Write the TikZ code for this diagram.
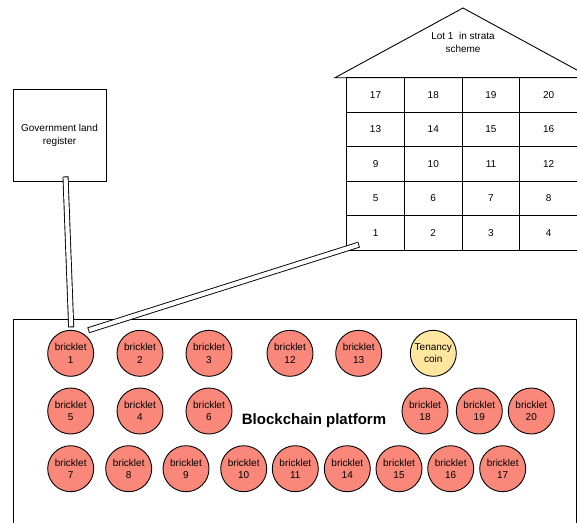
\documentclass[tikz,border=0pt]{standalone}
\usepackage{fontspec}
\setmainfont{Liberation Sans}
\usepackage{color}
\definecolor{salmon}{RGB}{250,136,122}
\definecolor{paleyellow}{RGB}{255,230,158}

\tikzset{
  brick/.style={draw,circle,fill=salmon,line width=0.9pt,minimum size=46pt,inner sep=0pt,align=center,font=\fontsize{10}{12.5}\selectfont},
  coin/.style={brick,fill=paleyellow},
  cell/.style={draw,line width=0.9pt,minimum width=57.7pt,minimum height=34.6pt,inner sep=0pt,font=\fontsize{10}{12}\selectfont},
  bar/.style={line width=6pt,postaction={draw=white,line width=4.2pt,shorten <=0.9pt,shorten >=0.9pt}}
}

\begin{document}
\begin{tikzpicture}[x=1pt,y=-1pt]
			\useasboundingbox (0,0) rectangle (577,522);
			\coordinate (r1) at (0,353.3);
			\coordinate (r2) at (0,411);
			\coordinate (r3) at (0,468.7);

			% government register
			\node[draw,line width=0.9pt,minimum width=93pt,minimum height=92pt,inner sep=0pt,align=center,font=\fontsize{10}{13}\selectfont] (govreg) at (59.5,135) {Government land\\register};

			% house with strata lots
			\draw[line width=0.9pt] (335,77.7) -- (463,8) -- (591,77.7) -- cycle;
			\node[align=center,font=\fontsize{10}{13}\selectfont] (lot) at (463,42.5) {Lot 1~ in strata\\scheme};
			\foreach \row in {0,...,4}
				\foreach \col in {1,...,4} {
					\pgfmathtruncatemacro{\num}{\row*4+\col}
					\node[cell] (cell\num) at (317.85+\col*57.7,233.1-\row*34.6) {\num};
				}

			% blockchain platform
			\draw[line width=0.9pt] (13.3,540) |- (576.3,319.3) -- (576.3,540);
			\node[font=\fontsize{15}{18}\selectfont\bfseries] (platform) at (314,421) {Blockchain platform};

			\node[brick] (b1) at (70.7,0 |- r1) {bricklet\\1};
			\node[brick] (b2) at (140,0 |- r1) {bricklet\\2};
			\node[brick] (b3) at (209,0 |- r1) {bricklet\\3};
			\node[brick] (b12) at (290,0 |- r1) {bricklet\\12};
			\node[brick] (b13) at (358.7,0 |- r1) {bricklet\\13};
			\node[coin] (tenancy) at (433.3,0 |- r1) {Tenancy\\coin};

			\node[brick] (b5) at (70.7,0 |- r2) {bricklet\\5};
			\node[brick] (b4) at (140,0 |- r2) {bricklet\\4};
			\node[brick] (b6) at (209,0 |- r2) {bricklet\\6};
			\node[brick] (b18) at (425,0 |- r2) {bricklet\\18};
			\node[brick] (b19) at (479.3,0 |- r2) {bricklet\\19};
			\node[brick] (b20) at (531.3,0 |- r2) {bricklet\\20};

			\node[brick] (b7) at (70.7,0 |- r3) {bricklet\\7};
			\node[brick] (b8) at (128.7,0 |- r3) {bricklet\\8};
			\node[brick] (b9) at (186,0 |- r3) {bricklet\\9};
			\node[brick] (b10) at (243.7,0 |- r3) {bricklet\\10};
			\node[brick] (b11) at (295.3,0 |- r3) {bricklet\\11};
			\node[brick] (b14) at (347.3,0 |- r3) {bricklet\\14};
			\node[brick] (b15) at (399,0 |- r3) {bricklet\\15};
			\node[brick] (b16) at (450.7,0 |- r3) {bricklet\\16};
			\node[brick] (b17) at (502.7,0 |- r3) {bricklet\\17};

			% links
			\coordinate (regfoot) at ([shift={(6,-5)}]govreg.south);
			\coordinate (b1top) at ([shift={(0.5,-2.5)}]b1.north);
			\coordinate (lotfoot) at ([shift={(-16.5,11.5)}]cell1.center);
			\coordinate (b1side) at ([shift={(17.5,-23)}]b1.center);
			\draw[bar] (regfoot) -- (b1top);
			\draw[bar] (lotfoot) -- (b1side);
		\end{tikzpicture}
\end{document}
